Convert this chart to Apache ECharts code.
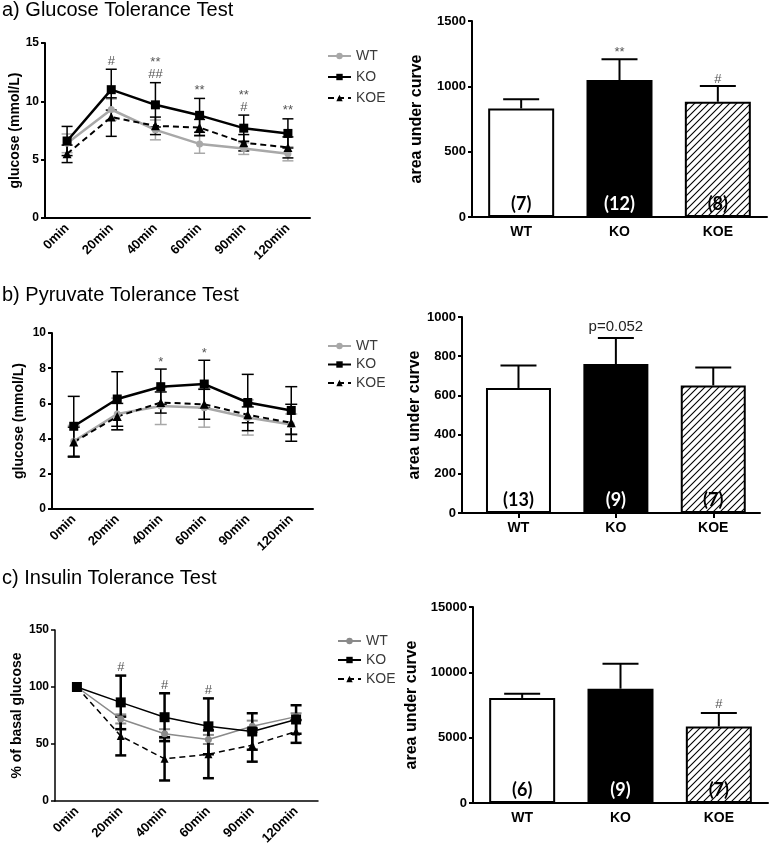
<!DOCTYPE html>
<html>
<head>
<meta charset="utf-8">
<script src="https://cdn.jsdelivr.net/npm/echarts@6/dist/echarts.min.js"></script>
<style>
html, body { margin: 0; padding: 0; background: #fff; }
#chart { width: 772px; height: 855px; }
</style>
</head>
<body>
<div id="chart"></div>
<script>
var timePoints = ['0min', '20min', '40min', '60min', '90min', '120min'];
var groups = ['WT', 'KO', 'KOE'];

// a) glucose tolerance test
var gttWT = [6.4, 9.3, 7.55, 6.35, 5.95, 5.5];
var gttWTErr = [0.8, 0.9, 0.85, 0.8, 0.5, 0.6];
var gttKO = [6.6, 11.0, 9.7, 8.8, 7.7, 7.25];
var gttKOErr = [1.25, 1.75, 1.9, 1.45, 1.12, 1.25];
var gttKOE = [5.5, 8.65, 7.9, 7.75, 6.45, 6.05];
var gttKOEErr = [0.75, 1.65, 0.75, 0.7, 0.7, 0.9];
var gttMarks = ['', '#', '**\n##', '**', '**\n#', '**'];
var gttAuc = [831, 1048, 882];
var gttAucErr = [71, 159, 120];
var gttN = ['(7)', '(12)', '(8)'];
var gttAucMarks = ['', '**', '#'];

// b) pyruvate tolerance test
var pttWT = [3.85, 5.4, 5.85, 5.75, 5.2, 4.8];
var pttWTErr = [0.9, 0.9, 1.05, 1.1, 1.0, 0.6];
var pttKO = [4.7, 6.25, 6.95, 7.1, 6.05, 5.6];
var pttKOErr = [1.7, 1.55, 1.0, 1.35, 1.6, 1.35];
var pttKOE = [3.8, 5.25, 6.05, 5.95, 5.35, 4.9];
var pttKOEErr = [0.85, 0.75, 0.6, 0.85, 0.45, 1.05];
var pttMarks = ['', '', '*', '*', '', ''];
var pttAuc = [638, 760, 651];
var pttAucErr = [115, 133, 91];
var pttN = ['(13)', '(9)', '(7)'];
var pttAucMarks = ['', 'p=0.052', ''];

// c) insulin tolerance test
var ittWT = [100, 72, 59, 54, 65.5, 74];
var ittWTErr = [0, 4, 4, 4, 5, 3];
var ittKO = [100, 86.5, 73.5, 65.5, 61, 71.5];
var ittKOErr = [0, 23.5, 21, 24.5, 16, 12.5];
var ittKOE = [100, 57, 37, 41, 49, 61];
var ittKOEErr = [0, 17, 19, 21, 14.5, 10];
var ittMarks = ['', '#', '#', '#', '', ''];
var ittAuc = [8040, 8750, 5860];
var ittAucErr = [320, 1910, 1025];
var ittN = ['(6)', '(9)', '(7)'];
var ittAucMarks = ['', '', '#'];

var FONT = '"Liberation Sans", Arial, sans-serif';
var MARK_COLOR = '#555';

// hatch for KOE bars
var hatch = document.createElement('canvas');
hatch.width = 7; hatch.height = 7;
var hctx = hatch.getContext('2d');
hctx.fillStyle = '#fff';
hctx.fillRect(0, 0, 7, 7);
hctx.strokeStyle = '#000';
hctx.lineWidth = 1.1;
hctx.beginPath();
hctx.moveTo(0, 7); hctx.lineTo(7, 0);
hctx.moveTo(-1, 1); hctx.lineTo(1, -1);
hctx.moveTo(6, 8); hctx.lineTo(8, 6);
hctx.stroke();
var barFills = ['#fff', '#000', { image: hatch, repeat: 'repeat' }];
var nColors = ['#000', '#fff', '#000'];

function tops(means, errs) {
    return means[0].map(function (_, i) {
        var m = 0;
        means.forEach(function (s, k) { m = Math.max(m, s[i] + errs[k][i]); });
        return m;
    });
}

function catAxis(gi, w) {
    return {
        type: 'category', gridIndex: gi, data: timePoints, boundaryGap: true,
        axisLine: { onZero: false, lineStyle: { color: '#000', width: w } },
        axisTick: { alignWithLabel: true, length: 5, lineStyle: { color: '#000', width: w } },
        axisLabel: { rotate: 45, interval: 0, margin: 8, color: '#000', fontWeight: 'bold', fontSize: 13, fontFamily: FONT }
    };
}

function barCatAxis(gi) {
    return {
        type: 'category', gridIndex: gi, data: groups,
        axisLine: { onZero: false, lineStyle: { color: '#000', width: 2 } },
        axisTick: { alignWithLabel: true, length: 5, lineStyle: { color: '#000', width: 2 } },
        axisLabel: { margin: 8, color: '#000', fontWeight: 'bold', fontSize: 14, fontFamily: FONT }
    };
}

function valAxis(gi, max, interval, name, gap, w, fs, nameSize) {
    return {
        type: 'value', gridIndex: gi, min: 0, max: max, interval: interval,
        name: name, nameLocation: 'middle', nameGap: gap,
        nameTextStyle: { color: '#000', fontWeight: 'bold', fontSize: nameSize, fontFamily: FONT },
        splitLine: { show: false },
        axisLine: { show: true, onZero: false, lineStyle: { color: '#000', width: w } },
        axisTick: { show: true, length: 4, lineStyle: { color: '#000', width: w } },
        axisLabel: {
            margin: 6, color: '#000', fontWeight: 'bold', fontSize: fs, fontFamily: FONT,
            formatter: function (v) { return String(v); }
        }
    };
}

function lineSeries(gi, name, data, color, width, dash, symbol, size) {
    return {
        type: 'line', name: name, xAxisIndex: gi, yAxisIndex: gi, data: data,
        symbol: symbol, symbolSize: size, z: 4,
        itemStyle: { color: color },
        lineStyle: { color: color, width: width, type: dash ? [6, 4] : 'solid' },
        animation: false
    };
}

function errSeries(gi, mean, err, color, width, cap, upperOnly) {
    var data = mean.map(function (m, i) { return [i, upperOnly ? m : m - err[i], m + err[i]]; })
        .filter(function (d) { return d[2] > d[1]; });
    return {
        type: 'custom', xAxisIndex: gi, yAxisIndex: gi, silent: true, z: 3, animation: false,
        encode: { x: 0, y: [1, 2] }, data: data,
        renderItem: function (params, api) {
            var lo = api.coord([api.value(0), api.value(1)]);
            var hi = api.coord([api.value(0), api.value(2)]);
            var st = { stroke: color, lineWidth: width };
            var ch = [
                { type: 'line', shape: { x1: lo[0], y1: lo[1], x2: hi[0], y2: hi[1] }, style: st },
                { type: 'line', shape: { x1: hi[0] - cap, y1: hi[1], x2: hi[0] + cap, y2: hi[1] }, style: st }
            ];
            if (!upperOnly) {
                ch.push({ type: 'line', shape: { x1: lo[0] - cap, y1: lo[1], x2: lo[0] + cap, y2: lo[1] }, style: st });
            }
            return { type: 'group', children: ch };
        }
    };
}

function markSeries(gi, top, marks, fs, weight, color, gap) {
    return {
        type: 'custom', xAxisIndex: gi, yAxisIndex: gi, silent: true, z: 6, animation: false,
        encode: { x: 0, y: 1 }, data: top.map(function (t, i) { return [i, t]; }),
        renderItem: function (params, api) {
            var txt = marks[params.dataIndex];
            if (!txt) return null;
            var p = api.coord([api.value(0), api.value(1)]);
            return {
                type: 'text', x: p[0], y: p[1] - gap,
                style: {
                    text: txt, fill: color, fontSize: fs, fontWeight: weight, fontFamily: FONT,
                    align: 'center', verticalAlign: 'bottom', lineHeight: fs - 1
                }
            };
        }
    };
}

function barSeries(gi, values, n, width, onValueAxis) {
    return {
        type: 'bar', xAxisIndex: gi, yAxisIndex: gi, barWidth: width, z: 2, animation: false,
        data: values.map(function (v, i) {
            return {
                value: onValueAxis ? [i, v] : v,
                itemStyle: { color: barFills[i], borderColor: '#000', borderWidth: 2 },
                label: { color: nColors[i] }
            };
        }),
        label: {
            show: true, position: 'insideBottom', distance: 4,
            fontFamily: 'Lato, "Open Sans", sans-serif', fontWeight: 'bold', fontSize: 18,
            formatter: function (p) { return n[p.dataIndex]; }
        }
    };
}

function legendFor(left, top, gap, wtColor) {
    return {
        orient: 'vertical', left: left, top: top, padding: 0, itemGap: gap, itemWidth: 23, itemHeight: 8,
        textStyle: { color: '#3a3a3a', fontSize: 14, fontFamily: FONT },
        data: [
            { name: 'WT', itemStyle: { color: wtColor }, lineStyle: { color: wtColor } },
            { name: 'KO' },
            { name: 'KOE' }
        ]
    };
}

var gray1 = '#a8a8a8';
var gray2 = '#8a8a8a';

var option = {
    backgroundColor: '#fff',
    animation: false,
    title: [
        { text: 'a) Glucose Tolerance Test', left: 2, top: 0, padding: 0, textStyle: { fontSize: 20, fontWeight: 'normal', color: '#000', fontFamily: FONT } },
        { text: 'b) Pyruvate Tolerance Test', left: 2, top: 285, padding: 0, textStyle: { fontSize: 20, fontWeight: 'normal', color: '#000', fontFamily: FONT } },
        { text: 'c) Insulin Tolerance Test', left: 2, top: 568, padding: 0, textStyle: { fontSize: 20, fontWeight: 'normal', color: '#000', fontFamily: FONT } }
    ],
    legend: [
        legendFor(327, 49, 7, gray1),
        legendFor(327, 339, 4.5, gray1),
        legendFor(337, 634, 5, gray2)
    ],
    grid: [
        { left: 45, top: 43, width: 265, height: 175 },
        { left: 472, top: 21, width: 295, height: 196 },
        { left: 52, top: 333, width: 261, height: 176 },
        { left: 462, top: 317, width: 298, height: 196 },
        { left: 55, top: 630, width: 263, height: 171 },
        { left: 473, top: 607, width: 295, height: 196 }
    ],
    xAxis: [
        catAxis(0, 2),
        barCatAxis(1),
        catAxis(2, 2),
        {
            type: 'value', gridIndex: 3, min: -0.58, max: 2.48,
            splitLine: { show: false },
            axisLine: { onZero: false, lineStyle: { color: '#000', width: 2 } },
            axisTick: { customValues: [0, 1, 2], length: 5, lineStyle: { color: '#000', width: 2 } },
            axisLabel: {
                customValues: [0, 1, 2], margin: 8, color: '#000', fontWeight: 'bold', fontSize: 14, fontFamily: FONT,
                formatter: function (v) { return groups[Math.round(v)]; }
            }
        },
        catAxis(4, 1.5),
        barCatAxis(5)
    ],
    yAxis: [
        valAxis(0, 15, 5, 'glucose (mmol/L)', 18, 2, 12, 14),
        valAxis(1, 1500, 500, 'area under curve', 47, 2, 13, 16),
        valAxis(2, 10, 2, 'glucose (mmol/L)', 26, 2, 12, 14),
        valAxis(3, 1000, 200, 'area under curve', 39, 2, 13, 16),
        valAxis(4, 150, 50, '% of basal glucose', 31, 1.5, 12, 14),
        valAxis(5, 15000, 5000, 'area under curve', 53, 2, 13, 16)
    ],
    series: [
        // a line
        errSeries(0, gttWT, gttWTErr, gray1, 1.5, 5.5),
        errSeries(0, gttKOE, gttKOEErr, '#000', 1.5, 5.5),
        errSeries(0, gttKO, gttKOErr, '#000', 1.5, 5.5),
        lineSeries(0, 'WT', gttWT, gray1, 2.5, false, 'circle', 7),
        lineSeries(0, 'KOE', gttKOE, '#000', 2, true, 'triangle', 9),
        lineSeries(0, 'KO', gttKO, '#000', 2.5, false, 'rect', 9),
        markSeries(0, tops([gttWT, gttKO, gttKOE], [gttWTErr, gttKOErr, gttKOEErr]), gttMarks, 13, 'normal', MARK_COLOR, 2),
        // a bar
        barSeries(1, gttAuc, gttN, 66, false),
        errSeries(1, gttAuc, gttAucErr, '#000', 2, 18, true),
        markSeries(1, gttAuc.map(function (v, i) { return v + gttAucErr[i]; }), gttAucMarks, 13, 'normal', MARK_COLOR, 1),
        // b line
        errSeries(2, pttWT, pttWTErr, gray1, 1.5, 6),
        errSeries(2, pttKOE, pttKOEErr, '#000', 1.5, 6),
        errSeries(2, pttKO, pttKOErr, '#000', 1.5, 6),
        lineSeries(2, 'WT', pttWT, gray1, 2.5, false, 'circle', 7),
        lineSeries(2, 'KOE', pttKOE, '#000', 2, true, 'triangle', 9),
        lineSeries(2, 'KO', pttKO, '#000', 2.5, false, 'rect', 9),
        markSeries(2, tops([pttWT, pttKO, pttKOE], [pttWTErr, pttKOErr, pttKOEErr]), pttMarks, 13, 'normal', MARK_COLOR, 1),
        // b bar
        barSeries(3, pttAuc, pttN, 65, true),
        errSeries(3, pttAuc, pttAucErr, '#000', 2, 18, true),
        markSeries(3, pttAuc.map(function (v, i) { return v + pttAucErr[i]; }), pttAucMarks, 15, 'normal', '#222', 4),
        // c line
        errSeries(4, ittWT, ittWTErr, gray2, 2, 5.5),
        errSeries(4, ittKOE, ittKOEErr, '#000', 2.5, 5.5),
        errSeries(4, ittKO, ittKOErr, '#000', 2.5, 5.5),
        lineSeries(4, 'WT', ittWT, gray2, 1.5, false, 'circle', 7),
        lineSeries(4, 'KOE', ittKOE, '#000', 1.5, true, 'triangle', 8),
        lineSeries(4, 'KO', ittKO, '#000', 1.5, false, 'rect', 10),
        markSeries(4, tops([ittWT, ittKO, ittKOE], [ittWTErr, ittKOErr, ittKOEErr]), ittMarks, 13, 'normal', MARK_COLOR, 2),
        // c bar
        barSeries(5, ittAuc, ittN, 66, false),
        errSeries(5, ittAuc, ittAucErr, '#000', 2, 18, true),
        markSeries(5, ittAuc.map(function (v, i) { return v + ittAucErr[i]; }), ittAucMarks, 13, 'normal', MARK_COLOR, 3)
    ]
};

var chart = echarts.init(document.getElementById('chart'));
chart.setOption(option);
</script>
</body>
</html>
